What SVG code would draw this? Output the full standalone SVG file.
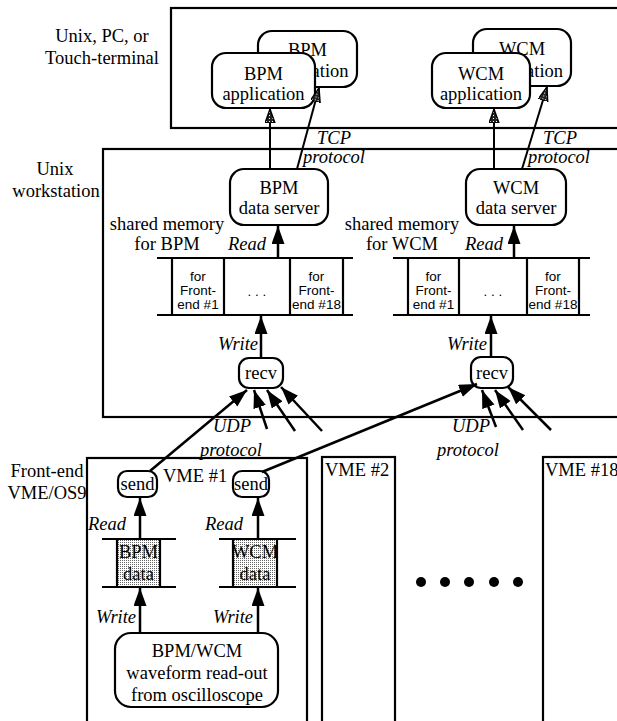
<svg xmlns="http://www.w3.org/2000/svg" width="617" height="721" viewBox="0 0 617 721">
<style>
.box{fill:none;stroke:#000;stroke-width:2.2}
.node{fill:#fff;stroke:#000;stroke-width:2.2}
.t{font-family:"Liberation Serif","Times New Roman",serif;font-size:18.5px;fill:#000}
.c{text-anchor:middle}
.i{font-style:italic}
.s{font-family:"Liberation Sans",Arial,sans-serif;font-size:13.5px;fill:#000;text-anchor:middle}
.ln{stroke:#000;stroke-width:2.2;fill:none}
.ar{stroke:#000;stroke-width:2.5;fill:none;marker-end:url(#big)}
.tc{stroke:#000;stroke-width:2;fill:none;marker-end:url(#dot)}
</style>
<defs>
<pattern id="stip" width="2" height="2" patternUnits="userSpaceOnUse">
<rect width="2" height="2" fill="#fff"/>
<rect x="0" y="0" width="1" height="1" fill="#666"/>
</pattern>
<pattern id="hatch" width="3" height="3" patternUnits="userSpaceOnUse">
<rect width="3" height="3" fill="#222"/>
<rect x="1" y="1" width="1" height="1" fill="#fff"/>
</pattern>
<marker id="big" markerUnits="userSpaceOnUse" markerWidth="20" markerHeight="14" refX="18" refY="6.5" orient="auto">
<path d="M0,0 L18,6.5 L0,13 z" fill="#000"/>
</marker>
<marker id="dot" markerUnits="userSpaceOnUse" markerWidth="16" markerHeight="12" refX="14" refY="5" orient="auto">
<path d="M0,0 L14,5 L0,10 z" fill="url(#hatch)" stroke="#000" stroke-width="1.4"/>
</marker>
</defs>

<!-- Layer boxes -->
<g id="layer-terminal">
<rect class="box" x="171" y="8" width="470" height="120"/>
<text class="t c" x="102" y="42">Unix, PC, or</text>
<text class="t c" x="102" y="64">Touch-terminal</text>
</g>
<g id="layer-workstation">
<rect class="box" x="103" y="149" width="540" height="268"/>
<text class="t c" x="55" y="175">Unix</text>
<text class="t c" x="56" y="197">workstation</text>
</g>
<g id="layer-frontend">
<text class="t c" x="47" y="477">Front-end</text>
<text class="t c" x="47" y="499">VME/OS9</text>
</g>

<!-- Applications -->
<g id="bpm-app-back">
<rect class="node" x="258" y="31" width="99" height="56" rx="14"/>
<text class="t c" x="307.5" y="56">BPM</text>
<text class="t c" x="307.5" y="77">application</text>
</g>
<g id="bpm-app">
<rect class="node" x="212" y="53" width="103" height="55" rx="14"/>
<text class="t c" x="263.5" y="80">BPM</text>
<text class="t c" x="263.5" y="100">application</text>
</g>
<g id="wcm-app-back">
<rect class="node" x="473" y="29" width="98" height="57" rx="14"/>
<text class="t c" x="522" y="55">WCM</text>
<text class="t c" x="522" y="77">application</text>
</g>
<g id="wcm-app">
<rect class="node" x="432" y="53" width="98" height="55" rx="14"/>
<text class="t c" x="481" y="80">WCM</text>
<text class="t c" x="481" y="100">application</text>
</g>

<!-- Data servers -->
<g id="bpm-server">
<rect class="node" x="230" y="169" width="98" height="56" rx="14"/>
<text class="t c" x="279" y="194">BPM</text>
<text class="t c" x="279" y="214">data server</text>
</g>
<g id="wcm-server">
<rect class="node" x="466" y="169" width="100" height="56" rx="14"/>
<text class="t c" x="516" y="194">WCM</text>
<text class="t c" x="516" y="214">data server</text>
</g>

<!-- Shared memories -->
<g id="bpm-shm">
<text class="t c" x="167" y="230">shared memory</text>
<text class="t c" x="167" y="250">for BPM</text>
<line class="ln" x1="157" y1="258" x2="353" y2="258"/>
<line class="ln" x1="157" y1="315" x2="353" y2="315"/>
<line class="ln" x1="172" y1="258" x2="172" y2="315"/>
<line class="ln" x1="224" y1="258" x2="224" y2="315"/>
<line class="ln" x1="290" y1="258" x2="290" y2="315"/>
<line class="ln" x1="343" y1="258" x2="343" y2="315"/>
<text class="s" x="198" y="281">for</text>
<text class="s" x="198" y="295">Front-</text>
<text class="s" x="198" y="309">end #1</text>
<text class="s" x="257" y="296">. . .</text>
<text class="s" x="316.5" y="281">for</text>
<text class="s" x="316.5" y="295">Front-</text>
<text class="s" x="316.5" y="309">end #18</text>
</g>
<g id="wcm-shm">
<text class="t c" x="402" y="230">shared memory</text>
<text class="t c" x="402" y="250">for WCM</text>
<line class="ln" x1="393" y1="258" x2="590" y2="258"/>
<line class="ln" x1="393" y1="315" x2="590" y2="315"/>
<line class="ln" x1="408" y1="258" x2="408" y2="315"/>
<line class="ln" x1="459" y1="258" x2="459" y2="315"/>
<line class="ln" x1="527" y1="258" x2="527" y2="315"/>
<line class="ln" x1="579" y1="258" x2="579" y2="315"/>
<text class="s" x="433.5" y="281">for</text>
<text class="s" x="433.5" y="295">Front-</text>
<text class="s" x="433.5" y="309">end #1</text>
<text class="s" x="493" y="296">. . .</text>
<text class="s" x="553" y="281">for</text>
<text class="s" x="553" y="295">Front-</text>
<text class="s" x="553" y="309">end #18</text>
</g>

<!-- recv -->
<g id="bpm-recv">
<rect class="node" x="239" y="358" width="44" height="30" rx="10"/>
<text class="t c" x="261" y="379">recv</text>
</g>
<g id="wcm-recv">
<rect class="node" x="471" y="357" width="42" height="31" rx="10"/>
<text class="t c" x="492" y="379">recv</text>
</g>

<!-- VME crates -->
<g id="vme1">
<rect class="box" x="87" y="458" width="220" height="280"/>
<text class="t" x="163" y="482">VME #1</text>
</g>
<g id="vme2">
<rect class="box" x="322" y="457" width="73" height="280"/>
<text class="t" x="325" y="476">VME #2</text>
</g>
<g id="vme18">
<rect class="box" x="543" y="457" width="100" height="280"/>
<text class="t" x="545" y="476">VME #18</text>
</g>
<g id="ellipsis">
<circle cx="421" cy="582" r="5"/>
<circle cx="445" cy="582" r="5"/>
<circle cx="469" cy="582" r="5"/>
<circle cx="494" cy="582" r="5"/>
<circle cx="518" cy="582" r="5"/>
</g>

<g id="bpm-send">
<rect class="node" x="118" y="471" width="39" height="26" rx="9"/>
<text class="t c" x="137.5" y="490">send</text>
</g>
<g id="wcm-send">
<rect class="node" x="233" y="471" width="36" height="26" rx="9"/>
<text class="t c" x="251" y="490">send</text>
</g>

<g id="bpm-data">
<rect x="117" y="539" width="43" height="48" fill="url(#stip)"/>
<line class="ln" x1="102" y1="539" x2="176" y2="539"/>
<line class="ln" x1="102" y1="587" x2="176" y2="587"/>
<line class="ln" x1="117" y1="539" x2="117" y2="587"/>
<line class="ln" x1="160" y1="539" x2="160" y2="587"/>
<text class="t c" x="138.5" y="558">BPM</text>
<text class="t c" x="138.5" y="580">data</text>
</g>
<g id="wcm-data">
<rect x="233" y="539" width="44" height="48" fill="url(#stip)"/>
<line class="ln" x1="219" y1="539" x2="296" y2="539"/>
<line class="ln" x1="219" y1="587" x2="296" y2="587"/>
<line class="ln" x1="233" y1="539" x2="233" y2="587"/>
<line class="ln" x1="277" y1="539" x2="277" y2="587"/>
<text class="t c" x="255" y="558">WCM</text>
<text class="t c" x="255" y="580">data</text>
</g>

<g id="waveform">
<rect class="node" x="115" y="633" width="163" height="74" rx="16"/>
<text class="t c" x="197" y="657">BPM/WCM</text>
<text class="t c" x="197" y="679">waveform read-out</text>
<text class="t c" x="197" y="701">from oscilloscope</text>
</g>

<!-- Connectors -->
<g id="connectors">
<line class="tc" x1="270" y1="169" x2="270" y2="109"/>
<line class="tc" x1="297" y1="169" x2="319" y2="88"/>
<line class="tc" x1="494" y1="169" x2="494" y2="109"/>
<line class="tc" x1="522" y1="169" x2="547" y2="87"/>
<line class="ar" x1="278" y1="258" x2="278" y2="226"/>
<line class="ar" x1="514" y1="258" x2="514" y2="226"/>
<line class="ar" x1="261" y1="358" x2="261" y2="316"/>
<line class="ar" x1="491" y1="357" x2="491" y2="316"/>
<line class="ar" x1="150" y1="471" x2="247" y2="390"/>
<line class="ar" x1="267" y1="429" x2="254" y2="390"/>
<line class="ar" x1="295" y1="431" x2="267" y2="390"/>
<line class="ar" x1="322" y1="431" x2="281" y2="387"/>
<line class="ar" x1="262" y1="472" x2="477" y2="384"/>
<line class="ar" x1="496" y1="427" x2="482" y2="390"/>
<line class="ar" x1="523" y1="430" x2="495" y2="390"/>
<line class="ar" x1="551" y1="430" x2="508" y2="387"/>
<line class="ar" x1="140" y1="539" x2="140" y2="498"/>
<line class="ar" x1="258" y1="539" x2="258" y2="498"/>
<line class="ar" x1="140" y1="633" x2="140" y2="588"/>
<line class="ar" x1="258" y1="633" x2="258" y2="588"/>
<text class="t i" x="317" y="144">TCP</text>
<text class="t i" x="303" y="163">protocol</text>
<text class="t i" x="543" y="144">TCP</text>
<text class="t i" x="528" y="163">protocol</text>
<text class="t i" x="228" y="250">Read</text>
<text class="t i" x="465" y="250">Read</text>
<text class="t i" x="218" y="350">Write</text>
<text class="t i" x="447" y="350">Write</text>
<text class="t i" x="213" y="432">UDP</text>
<text class="t i" x="200" y="456">protocol</text>
<text class="t i" x="452" y="432">UDP</text>
<text class="t i" x="437" y="456">protocol</text>
<text class="t i" x="88" y="530">Read</text>
<text class="t i" x="205" y="530">Read</text>
<text class="t i" x="96" y="623">Write</text>
<text class="t i" x="213" y="623">Write</text>
</g>
</svg>
